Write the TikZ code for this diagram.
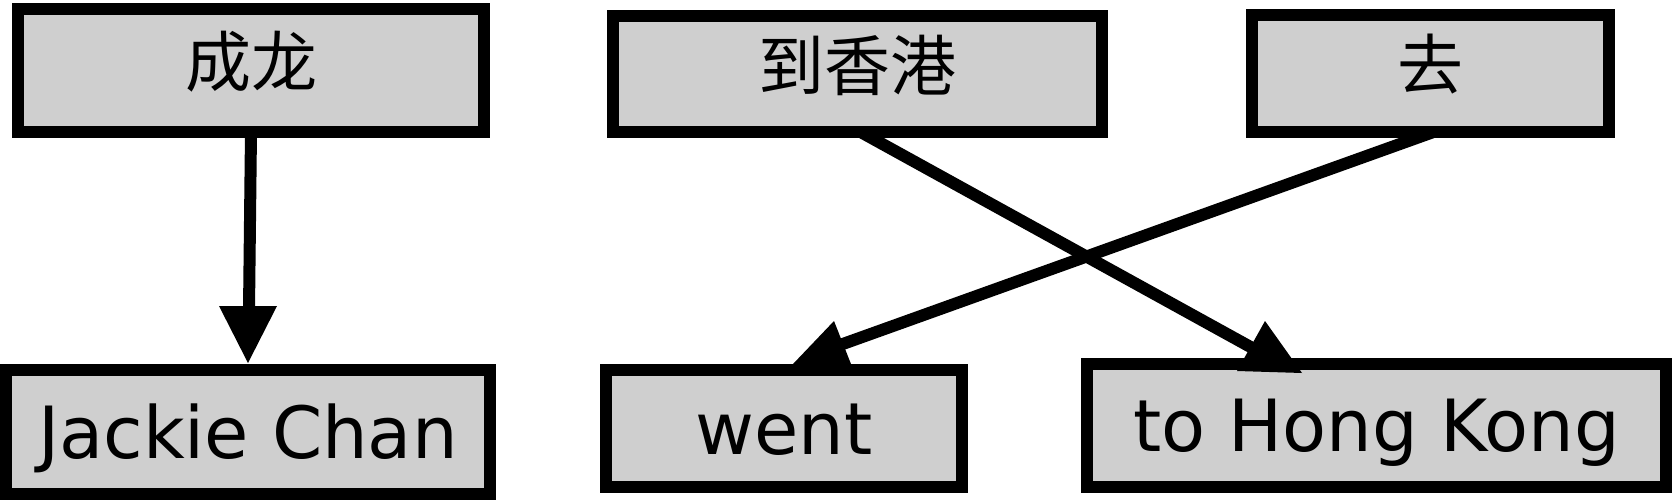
\documentclass[tikz,border=0pt]{standalone}
\usepackage{fontspec}
\setmainfont{DejaVu Sans}
\newfontfamily\cjk{Noto Sans CJK SC}
\usetikzlibrary{calc,backgrounds}
\definecolor{boxgray}{RGB}{207,207,207}
\begin{document}
\begin{tikzpicture}[x=1pt,y=-1pt,
  wbox/.style={draw=black, fill=boxgray, line width=12pt, rectangle, inner sep=0pt},
  entext/.style={font=\fontsize{72}{86}\selectfont, text height=52.5pt, text depth=0pt},
  zhtext/.style={font=\cjk\fontsize{66}{80}\selectfont, text height=33pt, text depth=0pt},
  edgeline/.style={line width=12pt, draw=black},
  tiptri/.style={fill=black}]
\useasboundingbox (0,0) rectangle (1675,500);
% source boxes
\node[wbox, zhtext, minimum width=466pt, minimum height=123pt] (cl) at (251,70.5) {成龙};
\node[wbox, zhtext, minimum width=489pt, minimum height=116pt] (dxg) at (857.5,74) {到香港};
\node[wbox, zhtext, minimum width=357pt, minimum height=117pt] (qu) at (1430.5,73.5) {去};
% target boxes
\node[wbox, entext, minimum width=484pt, minimum height=124pt] (jc) at (248,432) {Jackie Chan};
\node[wbox, entext, minimum width=356pt, minimum height=117pt] (went) at (784,428.5) {went};
\node[wbox, entext, minimum width=579pt, minimum height=123pt] (thk) at (1376.5,425.5) {to Hong Kong};
% connector coordinates
\coordinate (s1) at ($(cl.south)+(0,-6)$);
\coordinate (e1) at (249,310);
\coordinate (s2) at ($(dxg.south)+(-0.5,-8)$);
\coordinate (e2) at (1256,350);
\coordinate (s3) at ($(qu.south)+(8.5,-8)$);
\coordinate (e3) at (840,345);
\begin{pgfonlayer}{background}
  \draw[edgeline] (s1) -- (e1);
  \draw[edgeline] (s2) -- (e2);
  \draw[edgeline] (s3) -- (e3);
\end{pgfonlayer}
% arrow heads
\coordinate (t1a) at (219,306); \coordinate (t1b) at (277,306); \coordinate (t1c) at (248,363);
\coordinate (t2a) at (1265,321); \coordinate (t2b) at (1237,371); \coordinate (t2c) at (1302,373);
\coordinate (t3a) at (834,321); \coordinate (t3b) at (793,364); \coordinate (t3c) at (851,364);
\fill[tiptri] (t1a) -- (t1b) -- (t1c) -- cycle;
\fill[tiptri] (t2a) -- (t2b) -- (t2c) -- cycle;
\fill[tiptri] (t3a) -- (t3b) -- (t3c) -- cycle;
\end{tikzpicture}
\end{document}
